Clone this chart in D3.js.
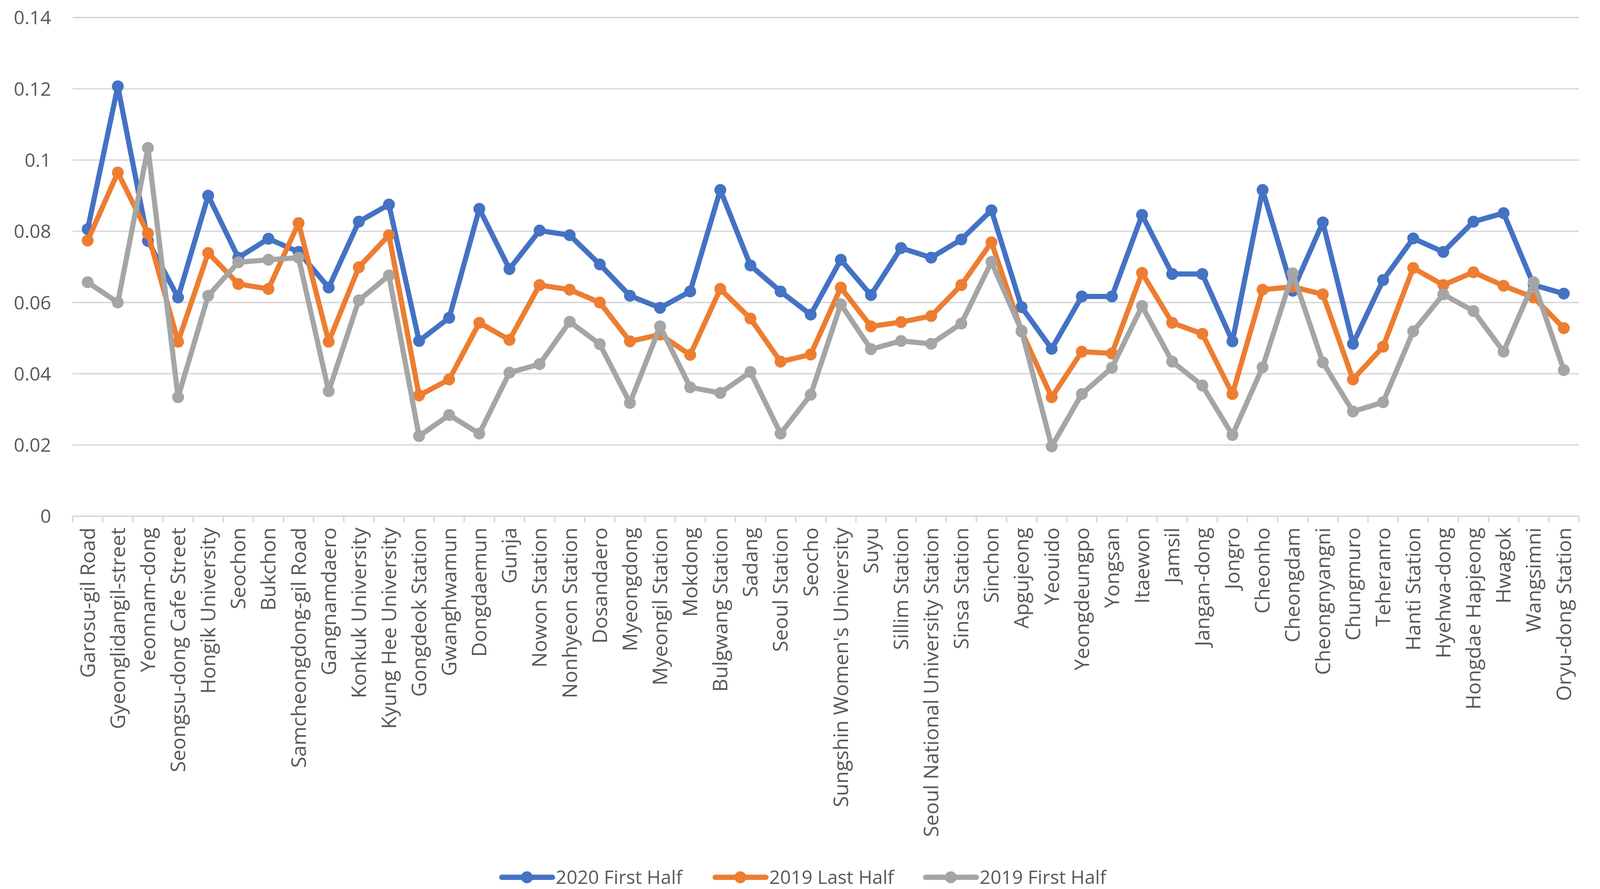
<!DOCTYPE html>
<html><head><meta charset="utf-8">
<script src="https://cdn.jsdelivr.net/npm/d3@7/dist/d3.min.js"></script>
<style>html,body{margin:0;padding:0;background:#fff;overflow:hidden;width:100%;height:100%;}svg{display:block;}</style>
</head><body>
<svg id="chart"></svg>
<script>
const categories = ["Garosu-gil Road","Gyeonglidangil-street","Yeonnam-dong","Seongsu-dong Cafe Street","Hongik University","Seochon","Bukchon","Samcheongdong-gil Road","Gangnamdaero","Konkuk University","Kyung Hee University","Gongdeok Station","Gwanghwamun","Dongdaemun","Gunja","Nowon Station","Nonhyeon Station","Dosandaero","Myeongdong","Myeongil Station","Mokdong","Bulgwang Station","Sadang","Seoul Station","Seocho","Sungshin Women's University","Suyu","Sillim Station","Seoul National University Station","Sinsa Station","Sinchon","Apgujeong","Yeouido","Yeongdeungpo","Yongsan","Itaewon","Jamsil","Jangan-dong","Jongro","Cheonho","Cheongdam","Cheongnyangni","Chungmuro","Teheranro","Hanti Station","Hyehwa-dong","Hongdae Hapjeong","Hwagok","Wangsimni","Oryu-dong Station"];

const first2020 = [0.0806,0.1207,0.0773,0.0614,0.0900,0.0726,0.0779,0.0742,0.0642,0.0827,0.0875,
  0.0492,0.0557,0.0863,0.0694,0.0802,0.0789,0.0707,0.0619,0.0585,0.0631,0.0916,0.0704,0.0631,
  0.0566,0.0720,0.0621,0.0753,0.0726,0.0777,0.0859,0.0587,0.0470,0.0617,0.0617,0.0846,0.0680,
  0.0680,0.0491,0.0916,0.0633,0.0825,0.0484,0.0663,0.0780,0.0742,0.0827,0.0851,0.0649,0.0625];

const last2019 = [0.0774,0.0965,0.0794,0.0490,0.0739,0.0652,0.0638,0.0823,0.0490,0.0699,0.0789,
  0.0339,0.0384,0.0543,0.0495,0.0649,0.0636,0.0600,0.0491,0.0510,0.0453,0.0638,0.0555,0.0434,
  0.0454,0.0642,0.0533,0.0545,0.0562,0.0649,0.0769,0.0519,0.0334,0.0462,0.0457,0.0683,0.0543,
  0.0512,0.0343,0.0636,0.0644,0.0623,0.0384,0.0476,0.0697,0.0649,0.0685,0.0647,0.0614,0.0528];

const first2019 = [0.0657,0.0600,0.1034,0.0334,0.0619,0.0713,0.0720,0.0726,0.0351,0.0606,0.0676,
  0.0225,0.0284,0.0232,0.0403,0.0427,0.0546,0.0483,0.0318,0.0533,0.0362,0.0346,0.0405,0.0232,
  0.0341,0.0595,0.0469,0.0492,0.0484,0.0541,0.0714,0.0521,0.0196,0.0343,0.0417,0.0590,0.0434,
  0.0367,0.0228,0.0418,0.0682,0.0432,0.0294,0.0320,0.0519,0.0623,0.0576,0.0462,0.0657,0.0410];

const seriesNames = ["2020 First Half","2019 Last Half","2019 First Half"];
const seriesColors = ["#4472C4","#ED7D31","#A5A5A5"];
const yTicks = [0,0.02,0.04,0.06,0.08,0.1,0.12,0.14];

(function(){
const W = window.innerWidth || 4318, H = window.innerHeight || 2275;
const sx = W / 4318, sy = H / 2275, sm = Math.min(sx, sy);
const series = [first2020, last2019, first2019].map((v,i)=>({name:seriesNames[i], color:seriesColors[i], values:v}));

const svg = d3.select("#chart").attr("width", W).attr("height", H);
const pLeft = 196*sx, pRight = 4261*sx, pTop = 45*sy, pBottom = 1321*sy;
const font = "'Open Sans', 'Noto Sans', sans-serif";
const textColor = "#595959";

const x = d3.scaleBand().domain(categories).range([pLeft, pRight]).paddingInner(0).paddingOuter(0);
const y = d3.scaleLinear().domain([0, 0.14]).range([pBottom, pTop]);

// gridlines
svg.append("g").selectAll("line").data(yTicks.filter(d=>d>0)).join("line")
  .attr("x1", pLeft).attr("x2", pRight)
  .attr("y1", d=>y(d)).attr("y2", d=>y(d))
  .attr("stroke", "#D9D9D9").attr("stroke-width", 4*sm);

// y axis labels
const yAxis = d3.axisLeft(y).tickValues(yTicks).tickSize(0).tickPadding(0)
  .tickFormat(d => d === 0 ? "0" : String(+d.toFixed(2)));
const gy = svg.append("g").attr("transform", `translate(${138*sx},0)`).call(yAxis);
gy.select(".domain").remove();
gy.selectAll("text").attr("font-family", font).attr("font-size", 51*sx).attr("fill", textColor).attr("dy", "0.35em");

// x axis line and ticks between categories
svg.append("line").attr("x1", pLeft).attr("x2", pRight).attr("y1", pBottom).attr("y2", pBottom)
  .attr("stroke", "#D9D9D9").attr("stroke-width", 4*sm);
const boundaries = categories.map(c => x(c)).concat([pRight]);
svg.append("g").selectAll("line").data(boundaries).join("line")
  .attr("x1", d=>d).attr("x2", d=>d).attr("y1", pBottom).attr("y2", pBottom + 16*sy)
  .attr("stroke", "#D9D9D9").attr("stroke-width", 4*sm);

// x labels
svg.append("g").selectAll("text").data(categories).join("text")
  .attr("transform", d => `translate(${x(d) + x.bandwidth()/2},${1350*sy}) rotate(-90)`)
  .attr("text-anchor", "end").attr("dy", "0.35em")
  .attr("font-family", font).attr("font-size", 52*sy).attr("fill", textColor)
  .text(d => d);

// series
const cx = (d,i) => x(categories[i]) + x.bandwidth()/2;
const line = d3.line().x(cx).y(d=>y(d));
series.forEach(s => {
  const g = svg.append("g");
  g.append("path").datum(s.values).attr("d", line)
    .attr("fill", "none").attr("stroke", s.color).attr("stroke-width", 14*sm)
    .attr("stroke-linejoin", "round").attr("stroke-linecap", "round");
  g.selectAll("circle").data(s.values).join("circle")
    .attr("cx", cx).attr("cy", d=>y(d))
    .attr("r", 16*sm).attr("fill", s.color);
});

// legend
const legendX = [1354, 1930, 2498];
const legendY = 2245*sy;
const lg = svg.append("g").selectAll("g").data(series).join("g")
  .attr("transform", (d,i)=>`translate(${legendX[i]*sx},${legendY})`);
lg.append("line").attr("x1", 0).attr("x2", 137*sx).attr("y1", 0).attr("y2", 0)
  .attr("stroke", d=>d.color).attr("stroke-width", 14*sm).attr("stroke-linecap", "round");
lg.append("circle").attr("cx", 68*sx).attr("cy", 0).attr("r", 16*sm).attr("fill", d=>d.color);
lg.append("text").attr("x", 146*sx).attr("y", 0).attr("dy", "0.35em")
  .attr("font-family", font).attr("font-size", 51*sx).attr("fill", textColor)
  .text(d=>d.name);
})();
</script>
</body></html>
